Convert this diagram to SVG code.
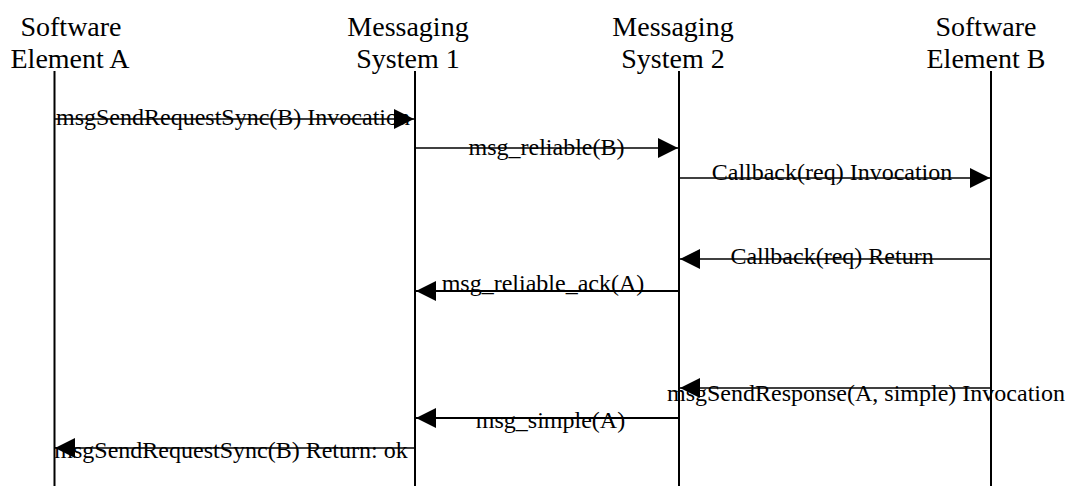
<svg xmlns="http://www.w3.org/2000/svg" width="1068" height="486" viewBox="0 0 1068 486">
  <style>
    .head { font-family: "Liberation Serif", "Times New Roman", serif; font-size: 28px; fill: #000; text-anchor: middle; }
    .life { stroke: #000; stroke-width: 2; fill: none; }
    .msg { stroke: #000; stroke-width: 1.5; fill: none; marker-end: url(#arrow); }
    .msg.bold { stroke-width: 2; }
    .lbl { font-family: "Liberation Serif", "Times New Roman", serif; font-size: 24px; fill: #000; text-anchor: middle; }
  </style>
  <defs>
    <marker id="arrow" markerUnits="userSpaceOnUse" markerWidth="20" markerHeight="20" refX="20" refY="10" orient="auto">
      <path d="M0,0 L20,10 L0,20 Z" fill="#000"/>
    </marker>
  </defs>
  <rect width="1068" height="486" fill="#fff"/>

  <!-- participants with their lifelines -->
  <g id="software-element-a">
    <text class="head" x="71" y="36">Software</text>
    <text class="head" x="70" y="68">Element A</text>
    <line class="life" x1="54.5" y1="71" x2="54.5" y2="486"/>
  </g>
  <g id="messaging-system-1">
    <text class="head" x="408" y="36">Messaging</text>
    <text class="head" x="408" y="68">System 1</text>
    <line class="life" x1="415" y1="71" x2="415" y2="486"/>
  </g>
  <g id="messaging-system-2">
    <text class="head" x="673" y="36">Messaging</text>
    <text class="head" x="673" y="68">System 2</text>
    <line class="life" x1="679" y1="71" x2="679" y2="486"/>
  </g>
  <g id="software-element-b">
    <text class="head" x="986" y="36">Software</text>
    <text class="head" x="986" y="68">Element B</text>
    <line class="life" x1="991" y1="71" x2="991" y2="486"/>
  </g>

  <!-- messages -->
  <g id="connectors">
    <text class="lbl" x="233" y="125">msgSendRequestSync(B) Invocation</text>
    <line class="msg" x1="55" y1="119" x2="414" y2="119"/>

    <text class="lbl" x="546.5" y="155">msg_reliable(B)</text>
    <line class="msg" x1="416" y1="148" x2="678" y2="148"/>

    <text class="lbl" x="832" y="180">Callback(req) Invocation</text>
    <line class="msg" x1="680" y1="178" x2="990" y2="178"/>

    <text class="lbl" x="832" y="264">Callback(req) Return</text>
    <line class="msg" x1="990" y1="259" x2="680" y2="259"/>

    <text class="lbl" x="543" y="291">msg_reliable_ack(A)</text>
    <line class="msg bold" x1="678" y1="291" x2="416" y2="291"/>

    <text class="lbl" x="866" y="401">msgSendResponse(A, simple) Invocation</text>
    <line class="msg" x1="990" y1="388" x2="680" y2="388"/>

    <text class="lbl" x="550.5" y="428">msg_simple(A)</text>
    <line class="msg bold" x1="678" y1="418" x2="416" y2="418"/>

    <text class="lbl" x="231" y="458">msgSendRequestSync(B) Return: ok</text>
    <line class="msg" x1="414" y1="448" x2="55" y2="448"/>
  </g>
</svg>
